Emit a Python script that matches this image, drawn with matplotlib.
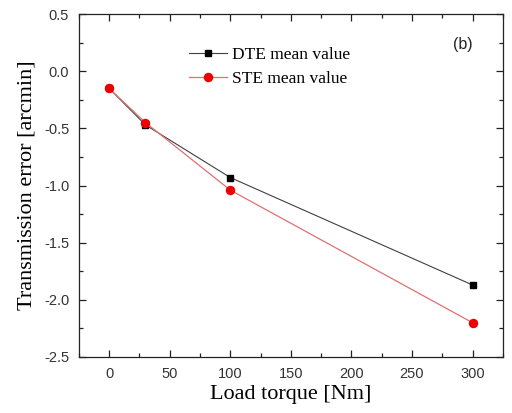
import matplotlib
matplotlib.use("Agg")
import matplotlib.pyplot as plt
from matplotlib.ticker import MultipleLocator

# Load torque [Nm]
torque = [0, 30, 100, 300]
# Mean transmission errors [arcmin]
dte_mean = [-0.15, -0.47, -0.93, -1.87]
ste_mean = [-0.15, -0.45, -1.04, -2.20]

x_ticks = [0, 50, 100, 150, 200, 250, 300]
y_ticks = [-2.5, -2.0, -1.5, -1.0, -0.5, 0.0, 0.5]

fig = plt.figure(figsize=(5.12, 4.13), dpi=100)
ax = fig.add_axes([0.154, 0.1356, 0.828, 0.8304])

ax.plot(torque, dte_mean, color="#404040", lw=0.8, marker="s", ms=4.5,
        mfc="black", mec="black", label="DTE mean value", zorder=3)
ax.plot(torque, ste_mean, color="#e07070", lw=0.9, marker="o", ms=5.8,
        mfc="#ee0000", mec="#ee0000", label="STE mean value", zorder=4)

ax.set_xlim(-25, 325)
ax.set_ylim(-2.5, 0.5)
ax.set_xticks(x_ticks)
ax.set_yticks(y_ticks)
ax.set_yticklabels([f"{v:.1f}" for v in y_ticks])
ax.xaxis.set_minor_locator(MultipleLocator(25))
ax.yaxis.set_minor_locator(MultipleLocator(0.25))

ax.tick_params(which="both", direction="in", top=True, right=True,
               colors="#222222", width=0.9)
ax.tick_params(which="major", length=5, labelsize=10.5, pad=7)
ax.tick_params(which="minor", length=3)
for lbl in ax.get_xticklabels() + ax.get_yticklabels():
    lbl.set_family("Liberation Sans")
    lbl.set_color("#333333")
for sp in ax.spines.values():
    sp.set_color("#222222")
    sp.set_linewidth(0.9)

ax.set_xlabel("Load torque [Nm]", family="Liberation Serif", fontsize=16,
              labelpad=3)
ax.set_ylabel("Transmission error [arcmin]", family="Liberation Serif",
              fontsize=16, labelpad=5)

ax.legend(loc="upper left", bbox_to_anchor=(0.222, 0.95), frameon=False,
          prop={"family": "Liberation Serif", "size": 12.5},
          handlelength=2.2, handletextpad=0.3, labelspacing=0.45)

ax.text(0.905, 0.91, "(b)", transform=ax.transAxes, family="Liberation Sans",
        fontsize=11.5, color="#222222", ha="center", va="center")

fig.savefig("out.png", dpi=100)
